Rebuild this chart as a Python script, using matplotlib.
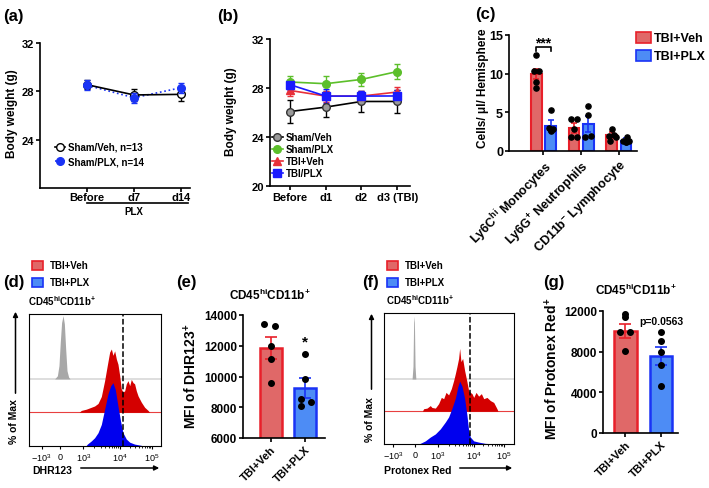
import numpy as np
import matplotlib
matplotlib.use('Agg')
import matplotlib.pyplot as plt
from matplotlib.lines import Line2D
from matplotlib.patches import Rectangle, FancyArrowPatch

plt.rcParams['font.family'] = ['Liberation Sans', 'DejaVu Sans']
plt.rcParams['font.weight'] = 'bold'
plt.rcParams['mathtext.default'] = 'regular'
plt.rcParams['axes.linewidth'] = 1.2
plt.rcParams['xtick.major.width'] = 1.2
plt.rcParams['ytick.major.width'] = 1.2
plt.rcParams['xtick.major.size'] = 2.8
plt.rcParams['ytick.major.size'] = 2.8

# ---- (a) body weight of sham mice on PLX diet ----
days_a = ['Before', 'd7', 'd14']
sham_veh_a = [28.55, 27.7, 27.75]
sham_veh_a_err = [0.35, 0.5, 0.55]
sham_plx_a = [28.5, 27.47, 28.3]
sham_plx_a_err = [0.4, 0.4, 0.4]

# ---- (b) body weight around TBI ----
days_b = ['Before', 'd1', 'd2', 'd3 (TBI)']
sham_veh_b = [26.08, 26.44, 26.9, 26.9]
sham_veh_b_err = [0.9, 0.8, 0.85, 0.9]
sham_plx_b = [28.49, 28.35, 28.7, 29.34]
sham_plx_b_err = [0.5, 0.6, 0.55, 0.63]
tbi_veh_b = [27.8, 27.34, 27.34, 27.67]
tbi_veh_b_err = [0.45, 0.45, 0.45, 0.45]
tbi_plx_b = [28.27, 27.34, 27.34, 27.35]
tbi_plx_b_err = [0.4, 0.6, 0.4, 0.5]

# ---- (c) infiltrating cells ----
cells_c = [r'Ly6C$^{hi}$ Monocytes', r'Ly6G$^{+}$ Neutrophils', r'CD11b$^{-}$ Lymphocyte']
veh_c = [10.0, 2.97, 2.07]
veh_c_err = [0.65, 0.6, 0.35]
plx_c = [3.27, 3.49, 1.33]
plx_c_err = [0.75, 1.05, 0.3]
veh_c_pts = [[12.4, 10.4, 10.4, 8.9, 8.1], [2.85, 4.2, 4.2, 1.8, 1.8], [2.9, 2.1, 1.9, 1.8, 1.3]]
plx_c_pts = [[5.3, 3.0, 2.8, 2.7, 2.6], [5.8, 4.7, 1.8, 1.9], [1.85, 1.3, 1.3, 1.2, 1.1]]

# ---- (e) / (g) MFI ----
groups = ['TBI+Veh', 'TBI+PLX']
mfi_e = [11830, 9230]
mfi_e_err = [720, 650]
pts_e = [[13415, 13265, 11965, 11140, 9580], [11460, 9840, 8540, 8360, 8080]]
mfi_g = [10060, 7540]
mfi_g_err = [680, 900]
pts_g = [[11700, 11380, 9900, 9900, 8100], [9900, 9080, 7940, 6720, 4600]]

# ---- (d) / (f) histograms, x in display channels (0-1000), y in % of max ----
hist_tick_labels = [r'$-10^3$', '0', r'$10^3$', r'$10^4$', r'$10^5$']
dhr_ticks = [96, 235, 411, 689, 930]
dhr_cut = 712
dhr_grey_ch = [194, 215, 227, 237, 247, 258, 268, 278, 288, 300, 311]
dhr_grey = [0, 5, 21, 58, 89, 100, 87, 47, 13, 3, 0]
dhr_veh_ch = [380, 396, 434, 472, 497, 523, 548, 573, 593, 611, 624, 636, 649, 662, 674, 687,
              699, 712, 725, 737, 750, 763, 775, 788, 800, 813, 826, 851, 876, 902, 914]
dhr_veh = [0, 3, 5, 8, 10, 14, 25, 50, 74, 95, 100, 90, 97, 84, 76, 58,
           37, 32, 34, 45, 50, 42, 52, 47, 45, 34, 26, 16, 8, 3, 0]
dhr_plx_ch = [430, 442, 472, 497, 523, 548, 573, 598, 619, 636, 654, 674, 694, 712, 737, 763, 800, 851, 870]
dhr_plx = [0, 3, 8, 13, 21, 34, 58, 82, 95, 100, 89, 63, 39, 21, 11, 6, 3, 1, 0]

ptx_ticks = [69, 242, 415, 690, 921]
ptx_cut = 661
ptx_grey_ch = [216, 223, 228, 231, 234, 239, 245]
ptx_grey = [0, 20, 90, 100, 90, 20, 0]
ptx_veh_ch = [295, 305, 331, 356, 369, 395, 420, 441, 459, 477, 497, 518, 536, 549, 561, 574, 582,
              592, 605, 620, 638, 651, 664, 677, 690, 708, 728, 749, 767, 792, 818, 844, 869, 877]
ptx_veh = [0, 4, 5, 9, 6, 5, 12, 22, 20, 30, 26, 36, 49, 60, 71, 84, 100,
           79, 84, 65, 47, 33, 30, 28, 22, 30, 24, 28, 20, 22, 17, 14, 4, 0]
ptx_plx_ch = [260, 279, 318, 356, 395, 433, 472, 497, 523, 549, 569, 582, 600, 620, 638, 651, 664,
              690, 728, 779, 831, 860]
ptx_plx = [0, 1, 5, 11, 16, 24, 35, 43, 57, 73, 92, 100, 92, 73, 46, 22, 11, 5, 3, 1, 0.5, 0]

RED, RED_FILL = '#e8202a', '#e06868'
BLUE, BLUE_FILL = '#1a33f5', '#4d8cf5'
GREEN = '#5cbf2a'

W, H = 709, 489
fig = plt.figure(figsize=(W / 100, H / 100), dpi=100)


def add_ax(l, t, r, b):
    # axes from pixel box (left, top, right, bottom)
    return fig.add_axes([l / W, 1 - b / H, (r - l) / W, (b - t) / H])


def ftext(x, y, s, **kw):
    return fig.text(x / W, 1 - y / H, s, **kw)


def farrow(x0, y0, x1, y1):
    fig.add_artist(FancyArrowPatch((x0 / W, 1 - y0 / H), (x1 / W, 1 - y1 / H), transform=fig.transFigure,
                                   arrowstyle='-|>', mutation_scale=7, lw=1.1, color='k'))


def key(x, y, fill, edge, label, fs, w=12, h=9, gap=6):
    fig.add_artist(Rectangle((x / W, 1 - (y + h / 2) / H), w / W, h / H, transform=fig.transFigure,
                             facecolor=fill, edgecolor=edge, lw=1.2))
    ftext(x + w + gap, y, label, fontsize=fs, va='center')


def clean(ax, fs):
    ax.spines['top'].set_visible(False)
    ax.spines['right'].set_visible(False)
    ax.tick_params(labelsize=fs, pad=1.5)


# ================= (a) =================
ax = add_ax(40, 44, 190, 189)
clean(ax, 8)
ax.tick_params(axis='x', pad=0.3)
xa = np.arange(len(days_a))
ax.plot(xa, sham_plx_a, color=BLUE, ls=':', lw=1.2, zorder=1)
ax.errorbar(xa, sham_veh_a, yerr=sham_veh_a_err, color='k', marker='o', mfc='white', mec='k',
            ms=5.5, capsize=2.5, lw=1.2, elinewidth=1, zorder=2)
ax.errorbar(xa, sham_plx_a, yerr=sham_plx_a_err, color=BLUE, ls='none', marker='o', ms=5.5,
            capsize=2.5, elinewidth=1, zorder=3)
ax.set_xlim(-1, 2.19)
ax.set_ylim(20, 32)
ax.set_yticks([24, 28, 32])
ax.set_xticks(xa, days_a)
# PLX feeding period under the day labels
ax.plot([0, 2.15], [-0.1, -0.1], transform=ax.get_xaxis_transform(), clip_on=False, color='k', lw=1.2, zorder=6)
ax.text(1, -0.16, 'PLX', transform=ax.get_xaxis_transform(), ha='center', va='center', fontsize=7)
ha = [Line2D([], [], color='k', marker='o', mfc='white', ms=5.5, lw=1.2),
      Line2D([], [], color=BLUE, ls=':', marker='o', ms=5.5, lw=1.2)]
ax.legend(ha, ['Sham/Veh, n=13', 'Sham/PLX, n=14'], loc='upper left', bbox_to_anchor=(55 / W, 1 - 143 / H),
          bbox_transform=fig.transFigure, frameon=False, fontsize=7, handlelength=1.0,
          handletextpad=0.3, labelspacing=0.5, borderpad=0, borderaxespad=0)
ftext(12.5, 114, 'Body weight (g)', rotation=90, ha='center', va='center', fontsize=8.5)
ftext(3, 16, '(a)', fontsize=12, va='center')

# ================= (b) =================
ax = add_ax(270, 40, 410, 187)
clean(ax, 8)
xb = np.arange(len(days_b))
series_b = [(sham_veh_b, sham_veh_b_err, 'k', 'o', '#9a9a9a', 'Sham/Veh'),
            (sham_plx_b, sham_plx_b_err, GREEN, 'o', GREEN, 'Sham/PLX'),
            (tbi_veh_b, tbi_veh_b_err, '#e8303a', '^', '#e8303a', 'TBI+Veh'),
            (tbi_plx_b, tbi_plx_b_err, '#1a1aff', 's', '#1a1aff', 'TBI/PLX')]
hb = []
for y, e, c, m, mc, lab in series_b:
    ax.errorbar(xb, y, yerr=e, color=c, marker=m, mfc=mc, mec=c if c != 'k' else '#333333',
                ms=5.5, capsize=2.5, lw=1.2, elinewidth=1)
    hb.append(Line2D([], [], color=c, marker=m, mfc=mc, mec=c if c != 'k' else '#333333', ms=5.5, lw=1.2))
ax.set_xlim(-0.56, 3.36)
ax.set_ylim(20, 32)
ax.set_yticks([20, 24, 28, 32])
ax.set_xticks(xb, days_b)
ax.legend(hb, [s[-1] for s in series_b], loc='upper left', bbox_to_anchor=(272 / W, 1 - 133 / H),
          bbox_transform=fig.transFigure, frameon=False, fontsize=7, handlelength=1.1,
          handletextpad=0.3, labelspacing=0.22, borderpad=0, borderaxespad=0)
ftext(231, 112, 'Body weight (g)', rotation=90, ha='center', va='center', fontsize=8.5)
ftext(217, 16, '(b)', fontsize=12, va='center')

# ================= (c) =================
ax = add_ax(509, 36, 637, 152)
clean(ax, 9)
xc = np.arange(len(cells_c))
jit_veh = [[0, -0.07, 0.07, 0, 0], [0, -0.07, 0.07, -0.07, 0.07], [0.02, 0.07, -0.07, 0.1, -0.05]]
jit_plx = [[0, -0.05, 0.06, 0, 0], [0, 0, -0.08, 0.08], [0.02, -0.08, 0.08, 0, 0]]
ax.bar(xc - 0.19, veh_c, 0.28, color=RED_FILL, edgecolor=RED, lw=1.5)
ax.bar(xc + 0.19, plx_c, 0.28, color=BLUE_FILL, edgecolor=BLUE, lw=1.5)
ax.errorbar(xc - 0.19, veh_c, yerr=veh_c_err, fmt='none', ecolor=RED, capsize=2.5, elinewidth=1.2, capthick=1.2)
ax.errorbar(xc + 0.19, plx_c, yerr=plx_c_err, fmt='none', ecolor=BLUE, capsize=2.5, elinewidth=1.2, capthick=1.2)
for i in range(len(cells_c)):
    ax.scatter(i - 0.19 + np.array(jit_veh[i]), veh_c_pts[i], s=14, color='k', zorder=4)
    ax.scatter(i + 0.19 + np.array(jit_plx[i]), plx_c_pts[i], s=14, color='k', zorder=4)
ax.plot([-0.19, -0.19, 0.19, 0.19], [12.9, 13.45, 13.45, 12.9], color='k', lw=1.2, clip_on=False)
ax.text(0, 13.55, '***', ha='center', va='baseline', fontsize=10)
ax.set_xlim(-0.915, 2.48)
ax.set_ylim(0, 15)
ax.set_yticks([0, 5, 10, 15])
ax.set_xticks(xc, cells_c, rotation=45, ha='right', va='top', rotation_mode='anchor')
ftext(483, 88, 'Cells/ \u03bcl/ Hemisphere', rotation=90, ha='center', va='center', fontsize=8.5)
ftext(475, 15, '(c)', fontsize=12, va='center')
key(636, 38.5, RED_FILL, RED, 'TBI+Veh', 9, w=15, h=11, gap=3)
key(636, 56.5, BLUE_FILL, BLUE, 'TBI+PLX', 9, w=15, h=11, gap=3)


# ================= (d) / (f) histograms =================
def flow_panel(box, tracks, ticks, cut, bases):
    ax = add_ax(*box)
    ax.set_xlim(0, 1000)
    ax.set_ylim(0, 100)
    ax.axhline(bases[0], color='#d8d8d8', lw=1.2, zorder=0)
    ax.axhline(bases[1], color='#e84040', lw=0.8, zorder=0)
    for (ch, h), b, c in zip(tracks, bases, ['#a8a8a8', '#d40000', '#0000ee']):
        ax.fill_between(ch, b, b + 0.48 * np.array(h), color=c, lw=0)
    ax.axvline(cut, color='k', ls='--', lw=1.1, zorder=5)
    ax.set_yticks([])
    ax.set_xticks(ticks, hist_tick_labels, fontsize=6.5, fontweight='normal')
    minor = [t + (ticks[k + 1] - t) * np.log10(m) for k, t in enumerate(ticks[2:4], 2) for m in range(2, 10)]
    ax.set_xticks(minor, minor=True)
    ax.tick_params(which='major', length=2.5, width=0.8, pad=1.5)
    ax.tick_params(which='minor', length=1.5, width=0.6)
    for sp in ax.spines.values():
        sp.set_linewidth(0.8)
    return ax


flow_panel((29, 315, 161, 447), [(dhr_grey_ch, dhr_grey), (dhr_veh_ch, dhr_veh), (dhr_plx_ch, dhr_plx)],
           dhr_ticks, dhr_cut, [50.8, 25.5, 0])
ftext(3, 283, '(d)', fontsize=12, va='center')
key(32, 266, RED_FILL, RED, 'TBI+Veh', 7, w=11, h=9, gap=7)
key(32, 283, BLUE_FILL, BLUE, 'TBI+PLX', 7, w=11, h=9, gap=7)
ftext(28, 301, r'CD45$^{hi}$CD11b$^{+}$', fontsize=7, va='center')
ftext(14, 422, '% of Max', rotation=90, ha='center', va='center', fontsize=7.5)
farrow(15.5, 397, 15.5, 310)
ftext(32, 471, 'DHR123', fontsize=7.5, va='center')
farrow(78, 469, 162, 469)

flow_panel((384, 314, 514, 445), [(ptx_grey_ch, ptx_grey), (ptx_veh_ch, ptx_veh), (ptx_plx_ch, ptx_plx)],
           ptx_ticks, ptx_cut, [49.6, 25, 0])
ftext(362, 283, '(f)', fontsize=12, va='center')
key(387, 266, RED_FILL, RED, 'TBI+Veh', 7, w=11, h=9, gap=7)
key(387, 283, BLUE_FILL, BLUE, 'TBI+PLX', 7, w=11, h=9, gap=7)
ftext(386, 300, r'CD45$^{hi}$CD11b$^{+}$', fontsize=7, va='center')
ftext(370, 420, '% of Max', rotation=90, ha='center', va='center', fontsize=7.5)
farrow(371.5, 393, 371.5, 312)
ftext(384, 471, 'Protonex Red', fontsize=7.5, va='center')
farrow(457, 469, 515, 469)


# ================= (e) / (g) MFI bars =================
def mfi_panel(box, vals, errs, pts, jit, xlim, ylim, yticks):
    ax = add_ax(*box)
    clean(ax, 8.5)
    xg = np.arange(len(groups))
    ax.bar(xg, vals, 0.64, color=[RED_FILL, BLUE_FILL], edgecolor=[RED, BLUE], lw=1.8)
    for i, c in enumerate([RED, BLUE]):
        ax.errorbar(xg[i], vals[i], yerr=errs[i], fmt='none', ecolor=c, capsize=4, elinewidth=1.2, capthick=1.2)
        ax.scatter(i + np.array(jit[i]), pts[i], s=16, color='k', zorder=4)
    ax.set_xlim(*xlim)
    ax.set_ylim(*ylim)
    ax.set_yticks(yticks)
    ax.set_xticks(xg, groups, rotation=45, ha='right', va='top', rotation_mode='anchor', fontsize=8)
    return ax


ax = mfi_panel((243, 316, 325, 439), mfi_e, mfi_e_err, pts_e, [[-0.18, 0.13, 0, 0, 0], [0, 0, -0.13, 0.16, -0.13]],
               (-0.8, 1.58), (6000, 14000), [6000, 8000, 10000, 12000, 14000])
ax.text(1, 12000, '*', ha='center', va='baseline', fontsize=11)
ftext(270, 295, r'CD45$^{hi}$CD11b$^{+}$', ha='center', va='center', fontsize=8.5)
ftext(191, 376, r'MFI of DHR123$^{+}$', rotation=90, ha='center', va='center', fontsize=10)
ftext(176, 283, '(e)', fontsize=12, va='center')

ax = mfi_panel((603, 312, 678, 434), mfi_g, mfi_g_err, pts_g, [[0, 0, -0.14, 0.14, 0], [0, 0, 0, 0, 0]],
               (-0.63, 1.48), (0, 12000), [0, 4000, 8000, 12000])
ax.text(1, 11000, 'p=0.0563', ha='center', va='center', fontsize=7.5)
ftext(636, 290, r'CD45$^{hi}$CD11b$^{+}$', ha='center', va='center', fontsize=8.5)
ftext(551.5, 369, r'MFI of Protonex Red$^{+}$', rotation=90, ha='center', va='center', fontsize=10)
ftext(543, 283, '(g)', fontsize=12, va='center')

fig.savefig('out.png', dpi=100)
